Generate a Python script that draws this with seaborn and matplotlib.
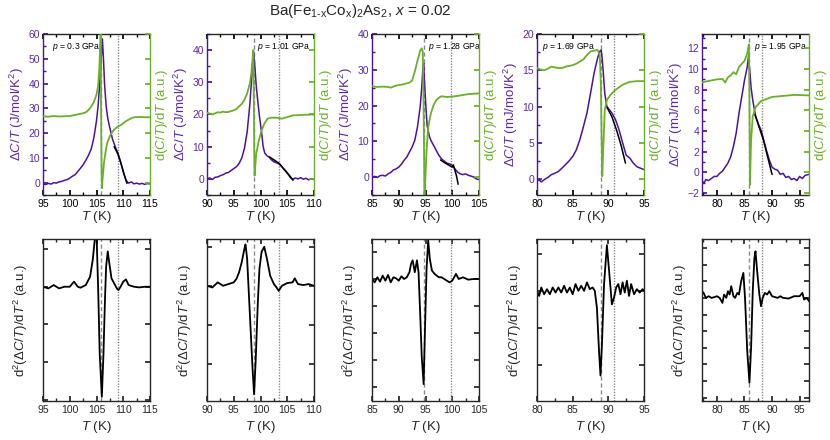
import matplotlib
matplotlib.use("Agg")
import matplotlib.pyplot as plt
import seaborn as sns
from matplotlib.ticker import MultipleLocator, NullFormatter

# ---------------- data ----------------
# Panel 1, p = 0.3 GPa
P1_T = [95.0, 95.5, 96.0, 96.5, 97.0, 97.5, 98.0, 98.5, 99.0, 99.5, 100.0, 100.5, 101.0, 101.5, 102.0, 102.5,
        103.0, 103.5, 104.0, 104.5, 105.0, 105.3, 105.6, 105.9, 106.1, 106.3, 106.5, 106.8, 107.1, 107.5, 108.0,
        108.5, 109.0, 109.5, 110.0, 110.5, 111.0, 111.5, 112.0, 112.5, 113.0, 113.5, 114.0, 114.5, 115.0]
P1_dC = [-0.5, -0.8, -0.3, -0.6, 0.0, -0.2, 0.3, 0.5, 0.9, 1.2, 1.8, 2.6, 3.2, 4.5, 5.8, 7.2,
         9.0, 11.0, 13.5, 18.0, 25.0, 31.0, 40.0, 51.0, 58.0, 50.0, 40.0, 31.0, 26.0, 22.0, 17.5,
         14.5, 12.0, 8.5, 4.5, 1.0, -0.2, 0.3, -0.5, -0.2, -0.6, -0.3, -0.7, -0.4, -0.5]
P1_fitT = [108.3, 109.0, 109.6, 110.2, 110.7]
P1_fit = [14.5, 11.5, 7.5, 3.0, -0.3]
P1_gT = [95, 96, 97, 98, 99, 100, 101, 102, 102.5, 103, 103.5, 104, 104.5, 105, 105.3, 105.5, 105.7, 105.8,
         105.85, 105.95, 106.0, 106.2, 106.4, 106.7, 107.0, 107.5, 108.0, 108.5, 109.0, 109.6, 110.3, 110.9,
         111.5, 112.1, 113, 114, 115]
P1_g = [26.8, 26.6, 26.9, 26.7, 26.8, 26.9, 27.3, 27.8, 28.0, 28.4, 29.3, 30.7, 32.5, 35.5, 39.0, 45.0, 56.0, 62.0,
        30.0, 5.0, -2.3, 3.0, 8.0, 12.5, 16.0, 18.8, 20.6, 21.8, 22.6, 23.3, 24.5, 25.3,
        26.0, 26.4, 26.5, 26.4, 26.4]
P1_bT = [95, 96, 97, 98, 99, 100, 100.8, 101.5, 102, 103, 103.8, 104.3, 104.8, 105.0, 105.3, 105.6, 106.0,
         106.3, 106.6, 106.8, 107.1, 107.4, 107.8, 108.3, 108.8, 109.1, 109.5, 110, 110.5, 111, 112, 113, 114, 115]
P1_b = [0.0, -0.05, 0.05, -0.05, 0.0, 0.0, 0.15, 0.0, -0.03, 0.05, 0.3, 0.8, 1.6, 1.6, 0.0, -2.0, -3.27,
        -2.0, -0.3, 0.6, 1.05, 0.7, 0.25, 0.1, -0.05, -0.1, 0.0, 0.15, 0.22, 0.05, 0.0, -0.02, 0.0, 0.0]

# Panel 2, p = 1.01 GPa
P2_T = [90.0, 90.5, 91.0, 91.5, 92.0, 92.5, 93.0, 93.5, 94.0, 94.5, 95.0, 95.5, 96.0, 96.5, 97.0, 97.5, 98.0,
        98.3, 98.5, 98.7, 98.9, 99.2, 99.5, 99.8, 100.2, 100.5, 100.8, 101.2, 101.6, 102.0, 102.5, 103.0, 103.5,
        104.0, 104.5, 105.0, 105.5, 106.0, 106.5, 107.0, 107.5, 108.0, 108.5, 109.0, 109.5, 110.0]
P2_dC = [0.0, 0.3, -0.2, 0.5, 0.6, 1.0, 1.3, 1.8, 2.0, 2.6, 3.2, 3.8, 4.8, 6.5, 9.5, 14.5, 23.0,
         30.0, 35.0, 39.5, 36.0, 29.0, 24.0, 19.5, 14.5, 10.0, 8.0, 7.2, 6.8, 6.0, 5.3, 5.0, 4.6,
         3.8, 2.8, 1.8, 0.6, -0.2, 0.3, 0.0, 0.4, -0.1, 0.2, -0.3, 0.1, -0.2]
P2_fitT = [101.7, 102.8, 103.5, 104.3, 105.2, 106.1]
P2_fit = [6.8, 5.6, 4.8, 3.2, 1.5, -0.4]
P2_gT = [90, 90.5, 91, 92, 92.5, 93, 93.5, 94, 95, 95.5, 96, 96.5, 97, 97.5, 98.0, 98.3, 98.5, 98.65, 98.75,
         98.85, 98.9, 99.0, 99.2, 99.7, 100.2, 100.7, 101.3, 102.0, 103.0, 104.0, 105.0, 106.0, 108.0, 110.0]
P2_g = [20.5, 20.3, 20.0, 20.7, 20.6, 20.9, 20.7, 20.8, 21.3, 21.7, 22.5, 23.3, 24.6, 26.5, 29.6, 33.0, 36.9, 40.0,
        25.0, 5.0, 1.0, 3.5, 7.8, 12.0, 15.0, 17.1, 18.7, 19.0, 19.0, 18.7, 19.2, 19.7, 19.9, 20.0]
P2_bT = [90, 91, 92, 93, 94, 95, 95.5, 96, 96.5, 97, 97.2, 97.5, 98, 98.5, 98.8, 99.1, 99.5, 99.8, 100.2,
         100.7, 101.2, 101.8, 102.5, 103, 103.4, 104, 105, 106, 106.4, 107, 108, 109, 110]
P2_b = [0.0, -0.05, 0.1, 0.0, 0.05, 0.1, 0.2, 0.4, 0.7, 1.1, 1.22, 0.8, -0.8, -2.4, -3.2, -2.2, -0.5, 0.5, 1.0,
        1.15, 0.8, 0.3, 0.05, -0.05, -0.15, 0.0, 0.08, 0.1, 0.22, 0.05, 0.02, 0.05, 0.0]

# Panel 3, p = 1.28 GPa
P3_T = [85.0, 85.5, 86.0, 86.5, 87.0, 87.5, 88.0, 88.5, 89.0, 89.5, 90.0, 90.5, 91.0, 91.5, 92.0, 92.5, 93.0,
        93.5, 94.0, 94.3, 94.5, 94.65, 94.8, 95.0, 95.3, 95.7, 96.0, 96.5, 97.0, 97.5, 98.0, 98.5, 99.0, 99.5,
        100.0, 100.5, 101.0, 101.5, 102.0, 102.5, 103.0, 103.5, 104.0, 104.5, 105.0]
P3_dC = [0.0, 0.2, -0.1, 0.4, 0.5, 0.3, 0.9, 1.3, 2.0, 2.3, 2.8, 3.6, 4.7, 5.6, 7.0, 8.4, 10.3,
         14.0, 19.6, 25.0, 30.0, 31.8, 27.0, 21.5, 14.5, 11.5, 10.3, 8.9, 7.5, 6.1, 5.1, 4.5, 3.9, 3.7,
         3.3, 2.3, 1.4, 0.9, 0.7, 0.9, 0.5, 0.3, 0.0, -0.5, -0.7]
P3_fitT = [97.8, 98.6, 99.4, 100.0, 100.2, 100.4, 100.8, 101.1]
P3_fit = [4.8, 4.0, 3.3, 2.8, 3.4, 2.4, 0.3, -2.0]
P3_gT = [85, 86, 87, 88, 88.5, 89, 89.5, 90, 91, 92, 92.5, 93, 93.5, 94.0, 94.3, 94.5, 94.65, 94.8, 94.9,
         95.2, 95.5, 96.0, 96.5, 97.0, 97.5, 98.0, 99.0, 100.0, 101.0, 103.0, 105.0]
P3_g = [25.4, 25.2, 25.3, 25.2, 25.0, 25.3, 25.6, 25.7, 26.0, 26.4, 27.0, 29.5, 32.5, 35.3, 36.0, 35.0, 20.0,
        -5.0, -3.0, 7.5, 14.0, 17.8, 20.1, 21.5, 22.2, 22.6, 22.4, 22.5, 22.7, 23.2, 23.4]
P3_bT = [85, 85.5, 86, 86.5, 87, 87.5, 88, 88.5, 89, 89.5, 90, 90.5, 91, 91.5, 92, 92.3, 92.6, 93.0, 93.4,
         93.7, 94.0, 94.3, 94.65, 94.9, 95.2, 95.5, 95.8, 96.2, 96.7, 97.5, 98, 99, 99.5, 100, 100.7, 101.2,
         102, 103, 104, 105]
P3_b = [0.0, -0.1, 0.05, -0.08, 0.1, -0.05, 0.12, -0.1, 0.05, 0.02, -0.05, 0.08, 0.0, 0.05, 0.2, 0.45, 0.55,
        0.2, 0.55, 0.2, -1.0, -2.3, -3.1, -1.5, 0.3, 1.15, 0.6, 0.25, 0.15, 0.05, 0.05, -0.05, -0.1, -0.05,
        0.15, 0.0, 0.05, -0.02, 0.0, 0.0]

# Panel 4, p = 1.69 GPa
P4_T = [80.0, 80.3, 80.6, 81.0, 81.5, 82.0, 82.5, 83.0, 83.5, 84.0, 84.5, 85.0, 85.5, 86.0, 86.5, 87.0, 87.5,
        88.0, 88.5, 88.8, 89.0, 89.15, 89.3, 89.5, 89.8, 90.2, 90.5, 91.0, 91.5, 92.0, 92.5, 93.0, 93.5, 94.0,
        94.5, 95.0]
P4_dC = [-0.3, -0.1, -0.4, -0.1, 0.2, 0.6, 0.8, 1.05, 1.5, 2.0, 2.5, 3.1, 4.0, 5.4, 7.2, 9.1, 11.8,
         14.6, 16.7, 17.6, 17.8, 16.5, 14.6, 11.8, 10.0, 9.5, 9.1, 8.2, 6.8, 5.0, 3.3, 2.9, 2.2, 1.7,
         1.5, 1.3]
P4_fitT = [89.8, 90.5, 91.2, 91.8, 92.4]
P4_fit = [9.9, 8.6, 6.6, 4.6, 2.2]
P4_gT = [80, 80.5, 81, 81.5, 82, 82.5, 83, 83.5, 84, 85, 85.5, 86, 86.5, 87, 87.5, 88, 88.5, 88.8, 88.95,
         89.05, 89.15, 89.3, 89.5, 89.8, 90.3, 91, 92, 93, 94, 95]
P4_g = [15.3, 15.1, 15.0, 15.2, 15.5, 15.4, 15.3, 15.3, 15.5, 15.7, 15.9, 16.2, 16.5, 17.1, 17.6, 17.7, 17.8,
        17.1, 13.0, 6.0, 0.4, 4.5, 9.5, 10.9, 11.6, 12.3, 13.0, 13.4, 13.5, 13.5]
P4_bT = [80, 80.3, 80.6, 81, 81.4, 81.8, 82.2, 82.6, 83, 83.4, 83.8, 84.2, 84.6, 85, 85.4, 85.8, 86.2, 86.6,
         87, 87.4, 87.8, 88.1, 88.4, 88.7, 88.9, 89.1, 89.4, 89.8, 90.1, 90.5, 90.8, 91.1, 91.4, 91.7, 92.0,
         92.3, 92.6, 92.9, 93.2, 93.6, 94, 94.4, 94.8, 95]
P4_b = [0.0, -0.15, 0.1, -0.1, 0.05, -0.1, 0.1, -0.05, 0.1, -0.05, 0.15, -0.05, 0.1, -0.1, 0.2, 0.0, 0.15, 0.0,
        0.25, 0.05, 0.1, 0.0, -0.5, -1.8, -2.5, -1.6, 0.2, 1.35, 0.6, -0.4, -0.2, 0.1, 0.2, -0.1, 0.25,
        -0.05, 0.3, -0.15, 0.2, -0.1, 0.05, -0.05, 0.05, 0.0]

# Panel 5, p = 1.95 GPa
P5_T = [77.3, 77.7, 78.0, 78.5, 79.0, 79.5, 80.0, 80.5, 81.0, 81.5, 82.0, 82.5, 83.0, 83.5, 84.0, 84.5, 85.0,
        85.5, 85.75, 86.0, 86.2, 86.5, 87.0, 87.5, 88.0, 88.5, 89.0, 89.5, 90.0, 90.5, 91.0, 91.5, 92.0, 92.5,
        93.0, 93.5, 94.0, 94.5, 95.0, 95.5, 96.0, 96.7]
P5_dC = [-0.9, -1.0, -0.7, -0.8, -0.6, -0.4, -0.4, -0.1, 0.1, 0.5, 0.9, 1.5, 2.5, 3.8, 5.7, 7.3, 8.9,
         10.2, 11.3, 9.6, 8.2, 7.0, 5.5, 4.7, 4.1, 3.1, 2.1, 1.2, 0.5, 0.3, 0.2, -0.2, -0.1, -0.5,
         -0.4, -0.7, -0.6, -0.8, -0.4, -0.6, -0.3, -0.2]
P5_fitT = [86.9, 87.7, 88.4, 89.2, 90.0]
P5_fit = [5.6, 4.3, 3.2, 1.5, -0.2]
P5_gT = [77.3, 78, 79, 80, 81, 81.5, 82, 82.5, 83, 83.5, 84, 84.5, 85, 85.5, 85.8, 85.9, 86.0, 86.2, 86.5,
         87, 87.5, 88, 89, 90, 92, 94, 96.7]
P5_g = [8.7, 8.8, 8.9, 9.0, 9.05, 8.7, 9.2, 9.4, 9.7, 9.5, 10.2, 10.5, 10.8, 11.5, 12.4, 7.0, -1.2, 3.1, 5.4,
        6.3, 6.6, 6.9, 7.1, 7.3, 7.4, 7.5, 7.45]
P5_bT = [77.3, 77.6, 78, 78.5, 79, 79.5, 80, 80.5, 81, 81.3, 81.7, 82, 82.3, 82.6, 83, 83.3, 83.7, 84, 84.4,
         84.8, 85.1, 85.5, 85.9, 86.2, 86.5, 86.8, 87.0, 87.3, 87.7, 88.0, 88.3, 88.7, 89.1, 89.5, 90, 91,
         91.5, 92, 93, 94, 95, 95.5, 95.8, 96.3, 96.7]
P5_b = [0.2, 0.15, 0.0, 0.05, 0.0, 0.02, 0.05, 0.0, -0.15, 0.1, 0.0, 0.2, 0.1, 0.35, 0.05, 0.0, 0.15, 0.1, 0.5,
        0.75, 0.0, -1.6, -2.55, -1.5, 0.2, 1.2, 1.4, 0.8, 0.1, -0.25, 0.0, 0.15, 0.1, 0.2, 0.05, 0.0,
        0.05, 0.0, -0.02, 0.05, 0.05, 0.15, -0.05, 0.0, -0.1]

PRESSURES = ["0.3", "1.01", "1.28", "1.69", "1.95"]
TC_DASHED = [105.9, 98.8, 94.7, 88.95, 85.9]
TC_DOTTED = [109.0, 103.4, 99.7, 90.85, 88.1]

# ---------------- style ----------------
PURPLE = "#4A149C"
PURPLE_TXT = "#5B2AA6"
GREEN = "#6BAF2A"

sns.set_theme(style="ticks")
plt.rcParams['font.family'] = ['Liberation Sans', 'DejaVu Sans']
plt.rcParams['mathtext.fontset'] = 'custom'
plt.rcParams['mathtext.rm'] = 'Liberation Sans'
plt.rcParams['mathtext.it'] = 'Liberation Sans:italic'
plt.rcParams['mathtext.bf'] = 'Liberation Sans:bold'
plt.rcParams['axes.linewidth'] = 1.0

fig = plt.figure(figsize=(8.3, 4.4), dpi=100)

panels = [
    dict(T=P1_T, dC=P1_dC, fT=P1_fitT, f=P1_fit, gT=P1_gT, g=P1_g, bT=P1_bT, b=P1_b,
         xlim=(95, 115), ylim=(-5, 60), ymaj=10, blim=(-3.4, 1.42), bstep=1.12,
         unit="J", ptx=0.08),
    dict(T=P2_T, dC=P2_dC, fT=P2_fitT, f=P2_fit, gT=P2_gT, g=P2_g, bT=P2_bT, b=P2_b,
         xlim=(90, 110), ylim=(-5, 45), ymaj=10, blim=(-3.4, 1.38), bstep=1.15,
         unit="J", ptx=0.47),
    dict(T=P3_T, dC=P3_dC, fT=P3_fitT, f=P3_fit, gT=P3_gT, g=P3_g, bT=P3_bT, b=P3_b,
         xlim=(85, 105), ylim=(-5, 40), ymaj=10, blim=(-3.6, 1.18), bstep=0.8,
         unit="J", ptx=0.52),
    dict(T=P4_T, dC=P4_dC, fT=P4_fitT, f=P4_fit, gT=P4_gT, g=P4_g, bT=P4_bT, b=P4_b,
         xlim=(80, 95), ylim=(-2.2, 20), ymaj=5, blim=(-3.25, 1.53), bstep=1.1,
         unit="mJ", ptx=0.05),
    dict(T=P5_T, dC=P5_dC, fT=P5_fitT, f=P5_fit, gT=P5_gT, g=P5_g, bT=P5_bT, b=P5_b,
         xlim=(77.3, 96.7), ylim=(-2.2, 13.4), ymaj=2, blim=(-3.1, 1.77), bstep=0.5,
         unit="mJ", ptx=0.49),
]

W, H = 830.0, 440.0
lefts = [43, 207, 372, 537, 702]
aw = 107

for i, pd_ in enumerate(panels):
    L = lefts[i] / W
    # ---- top panel ----
    ax = fig.add_axes([L, 1 - 195 / H, aw / W, 161 / H])
    ax.axvline(TC_DASHED[i], color="#8a8a8a", ls=(0, (3, 2)), lw=1.0, zorder=1)
    ax.axvline(TC_DOTTED[i], color="#8a8a8a", ls=(0, (1, 1)), lw=1.0, zorder=1)
    sns.lineplot(x=pd_["T"], y=pd_["dC"], ax=ax, color=PURPLE, lw=1.1, sort=False, estimator=None)
    sns.lineplot(x=pd_["fT"], y=pd_["f"], ax=ax, color="black", lw=1.1, sort=False, estimator=None)
    ax.set_xlim(*pd_["xlim"])
    ax.set_ylim(*pd_["ylim"])
    ax.xaxis.set_major_locator(MultipleLocator(5))
    ax.xaxis.set_minor_locator(MultipleLocator(2.5))
    ax.yaxis.set_major_locator(MultipleLocator(pd_["ymaj"]))
    ax.yaxis.set_minor_locator(MultipleLocator(pd_["ymaj"] / 2))
    ax.tick_params(axis="x", which="both", direction="in", top=True, bottom=True, labelsize=7.5,
                   colors="black", pad=3)
    ax.tick_params(axis="x", which="major", length=3.5)
    ax.tick_params(axis="x", which="minor", length=2)
    ax.tick_params(axis="y", which="both", direction="in", left=True, right=False, labelsize=7.5,
                   colors=PURPLE, labelcolor=PURPLE_TXT, pad=2)
    ax.tick_params(axis="y", which="major", length=3.5)
    ax.tick_params(axis="y", which="minor", length=2)
    ax.spines["left"].set_color(PURPLE)
    ax.spines["right"].set_visible(False)
    ax.set_xlabel("$T$ (K)", fontsize=9.5, labelpad=0)
    ax.set_ylabel("Δ$C/T$ (" + pd_["unit"] + "/mol/K$^2$)", fontsize=9.5, color=PURPLE_TXT, labelpad=2)
    ax.text(pd_["ptx"], 0.92, "$p$ = " + PRESSURES[i] + " GPa", transform=ax.transAxes,
            fontsize=6.2, va="center", ha="left", color="black")

    ax2 = ax.twinx()
    sns.lineplot(x=pd_["gT"], y=pd_["g"], ax=ax2, color=GREEN, lw=1.3, sort=False, estimator=None)
    ax2.set_ylim(*pd_["ylim"])
    ax2.yaxis.set_major_locator(MultipleLocator(pd_["ymaj"]))
    ax2.yaxis.set_major_formatter(NullFormatter())
    ax2.tick_params(axis="y", direction="in", right=True, labelright=False, colors=GREEN, length=3.5)
    for s in ["left", "top", "bottom"]:
        ax2.spines[s].set_visible(False)
    ax2.spines["right"].set_color(GREEN)
    ax2.set_ylabel("d($C/T$)/d$T$ (a.u.)", fontsize=9.5, color=GREEN, labelpad=3)

    # ---- bottom panel ----
    bx = fig.add_axes([L, 1 - 401 / H, aw / W, 162 / H])
    bx.axvline(TC_DASHED[i], color="#8a8a8a", ls=(0, (3, 2)), lw=1.0, zorder=1)
    bx.axvline(TC_DOTTED[i], color="#8a8a8a", ls=(0, (1, 1)), lw=1.0, zorder=1)
    sns.lineplot(x=pd_["bT"], y=pd_["b"], ax=bx, color="black", lw=1.3, sort=False, estimator=None)
    bx.set_xlim(*pd_["xlim"])
    bx.set_ylim(*pd_["blim"])
    bx.xaxis.set_major_locator(MultipleLocator(5))
    bx.xaxis.set_minor_locator(MultipleLocator(2.5))
    bx.yaxis.set_major_locator(MultipleLocator(pd_["bstep"]))
    bx.yaxis.set_major_formatter(NullFormatter())
    bx.tick_params(axis="x", which="both", direction="in", top=True, bottom=True, labelsize=7.5, pad=3)
    bx.tick_params(axis="x", which="major", length=3.5)
    bx.tick_params(axis="x", which="minor", length=2)
    bx.tick_params(axis="y", direction="in", left=True, right=True, length=3.5)
    bx.set_xlabel("$T$ (K)", fontsize=9.5, labelpad=3)
    bx.set_ylabel("d$^2$(Δ$C/T$)/d$T^2$ (a.u.)", fontsize=9.5, labelpad=6)

fig.text(0.434, 0.976, "Ba(Fe$_{\\mathrm{1\u2010x}}$Co$_{\\mathrm{x}}$)$_2$As$_2$, $x$ = 0.02",
         ha="center", va="center", fontsize=11)

fig.savefig("out.png", dpi=100)
